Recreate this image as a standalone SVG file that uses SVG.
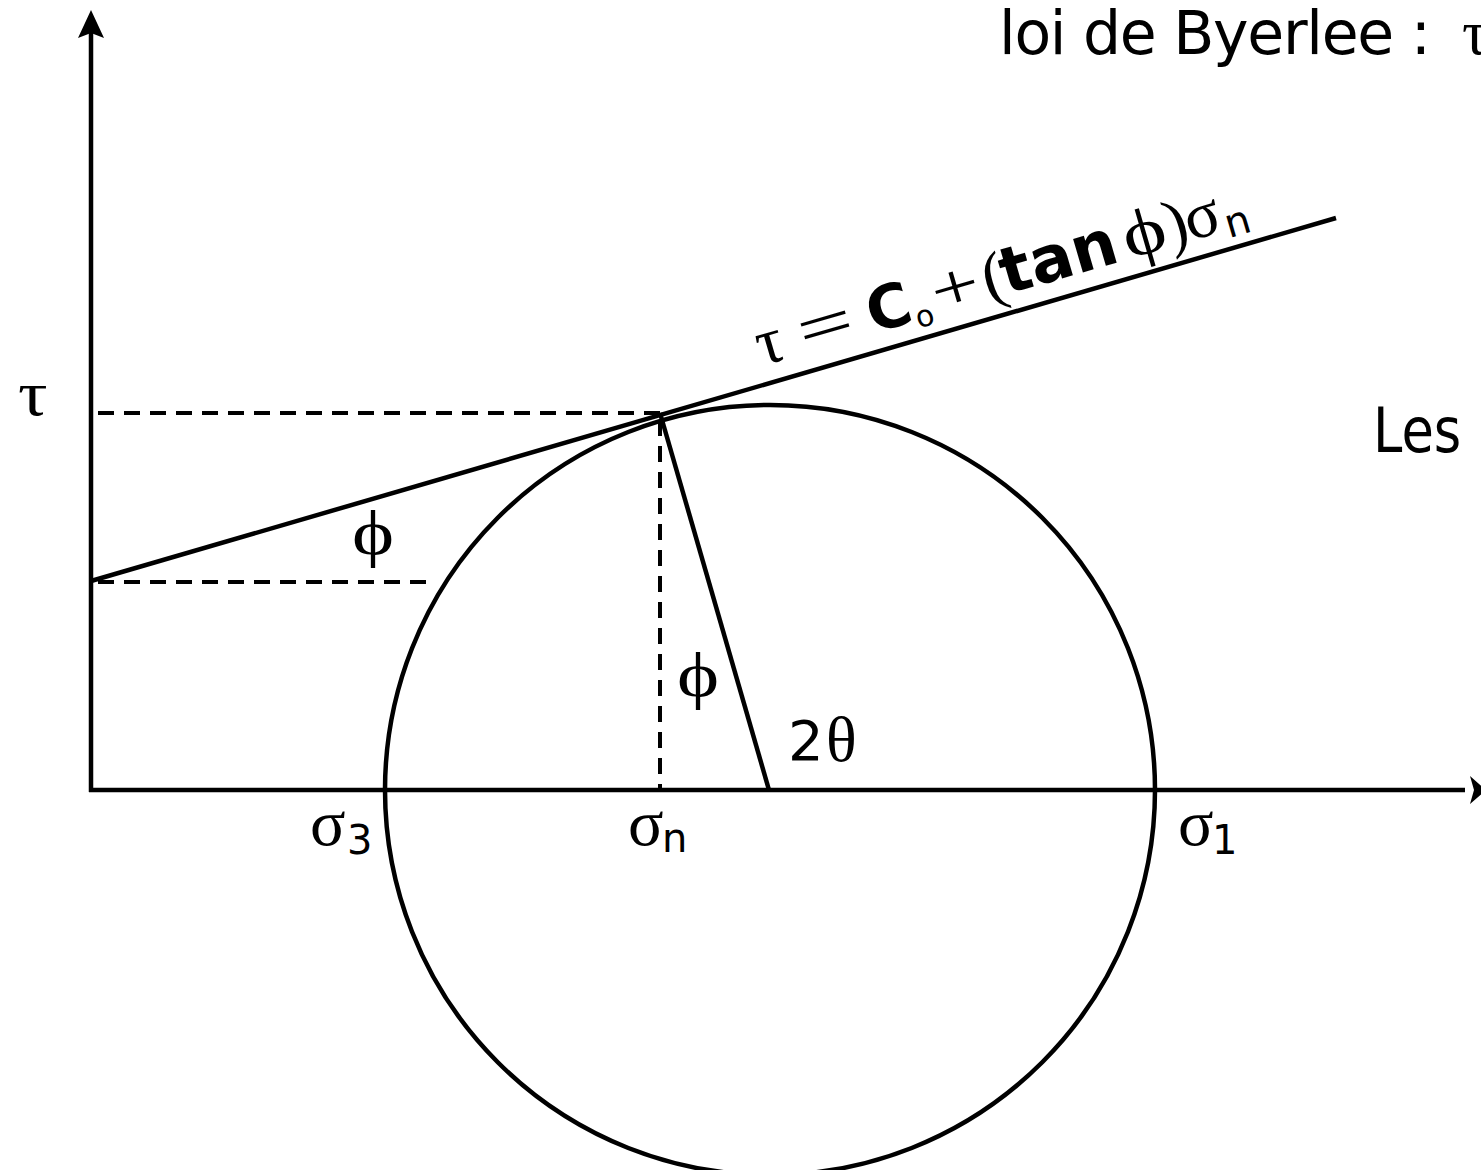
<svg xmlns="http://www.w3.org/2000/svg" width="1481" height="1170" viewBox="0 0 1481 1170">
<style>
.ln{stroke:#000;stroke-width:4.5;fill:none}
.dash{stroke:#000;stroke-width:4;fill:none;stroke-dasharray:16,10}
.gk{font-family:"Liberation Serif","DejaVu Serif",serif;fill:#000}
.cm{font-family:"DejaVu Sans","Liberation Sans",sans-serif;fill:#000}
</style>
<rect width="1481" height="1170" fill="#fff"/>
<g id="connectors">
<line class="ln" x1="91" y1="792" x2="91" y2="30"/>
<path d="M91,10 L104,38 L91,33 L78,38 Z" fill="#000"/>
<line class="ln" x1="89" y1="790" x2="1465" y2="790"/>
<path d="M1486,790 L1470,776 L1474,790 L1470,804 Z" fill="#000"/>
<line class="ln" x1="91" y1="581" x2="1336" y2="218"/>
<line class="ln" x1="660" y1="413" x2="769" y2="790"/>
<line class="dash" x1="98" y1="413" x2="660" y2="413"/>
<line class="dash" x1="660" y1="420" x2="660" y2="790"/>
<line class="dash" x1="98" y1="582" x2="430" y2="582"/>
</g>
<g id="circle">
<circle class="ln" cx="770" cy="790" r="385" stroke-width="3.5"/>
</g>
<g id="labels">
<text class="cm" x="999" y="54" font-size="60" textLength="432">loi de Byerlee :</text>
<text class="gk" x="1462" y="54" font-size="64">τ</text>
<text class="cm" x="1373" y="452" font-size="62" transform="translate(1373,0) scale(0.85,1) translate(-1373,0)">Les</text>
<g transform="translate(762,366) rotate(-16.26)">
<text class="gk" x="0" y="0" font-size="66">τ</text>
<text class="gk" x="44" y="0" font-size="66" transform="translate(44,0) scale(1.5,1) translate(-44,0)">=</text>
<text class="cm" x="116" y="0" font-size="60" font-weight="bold">C</text>
<text class="cm" x="161" y="8" font-size="30">o</text>
<text class="gk" x="183" y="0" font-size="66" transform="translate(183,0) scale(1.3,1) translate(-183,0)">+</text>
<text class="gk" x="236" y="0" font-size="66">(</text>
<text class="cm" x="255" y="0" font-size="64" font-weight="bold">tan</text>
<text class="gk" x="382" y="0" font-size="66" transform="translate(382,0) scale(1.25,1) translate(-382,0)">ϕ</text>
<text class="gk" x="426" y="0" font-size="66">)</text>
<text class="gk" x="446" y="0" font-size="66">σ</text>
<text class="cm" x="484" y="8" font-size="40">n</text>
</g>
<text class="gk" x="18" y="415" font-size="64" transform="translate(18,0) scale(1.15,1) translate(-18,0)">τ</text>
<text class="gk" x="352" y="554" font-size="64" transform="translate(352,0) scale(1.25,1) translate(-352,0)">ϕ</text>
<text class="gk" x="677" y="696" font-size="64" transform="translate(677,0) scale(1.25,1) translate(-677,0)">ϕ</text>
<text class="cm" x="788" y="760" font-size="56">2</text>
<text class="gk" x="826" y="761" font-size="64">θ</text>
<text class="gk" x="310" y="845" font-size="66">σ</text>
<text class="cm" x="347" y="854" font-size="40">3</text>
<text class="gk" x="628" y="845" font-size="66">σ</text>
<text class="cm" x="662" y="852" font-size="40">n</text>
<text class="gk" x="1178" y="845" font-size="66">σ</text>
<text class="cm" x="1212" y="854" font-size="40">1</text>
</g>
</svg>
